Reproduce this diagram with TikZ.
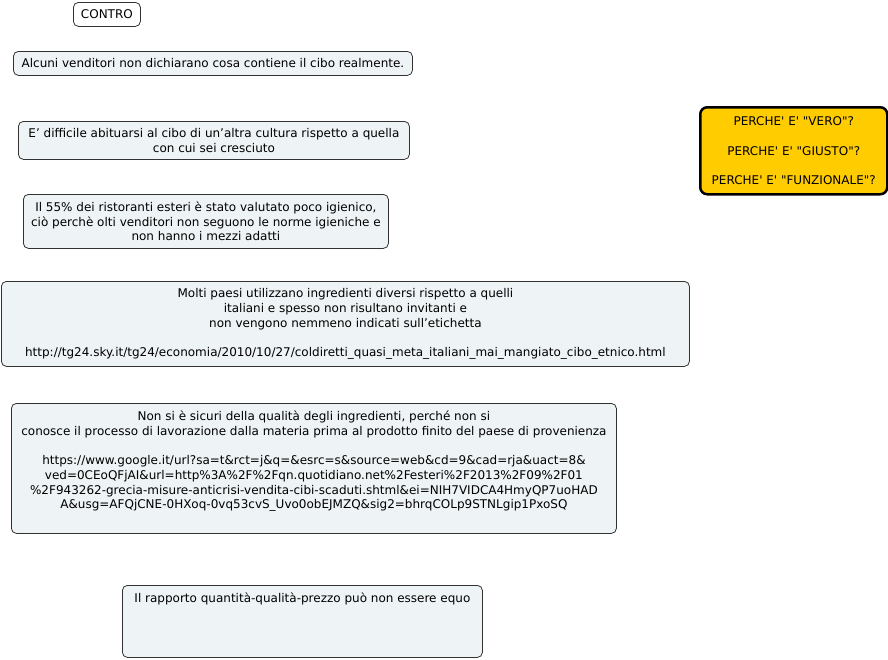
\documentclass[tikz,border=0pt]{standalone}
\usepackage{fontspec}
\setmainfont{DejaVu Sans}[Ligatures=TeXOff]
\usepackage{xcolor}
\usepackage{tikz}
\usetikzlibrary{
  positioning
}
\definecolor{boxfill}{RGB}{238,243,245}
\definecolor{boxline}{RGB}{50,50,50}
\definecolor{askfill}{RGB}{255,204,0}
\tikzset{
  mappa/.style={ font=\fontsize{12}{14.7}\selectfont },
  idea/.style={
    rounded corners=5pt,
    draw=boxline,
    fill=boxfill,
    line width=0.8pt,
    align=center,
    inner sep=2pt,
    anchor=north west,
    text=black
  },
  titolo/.style={
    idea,
    fill=white
  },
  domanda/.style={
    rounded corners=7pt,
    draw=black,
    fill=askfill,
    line width=2.5pt,
    align=center,
    inner sep=2pt,
    anchor=north west
  }
}

\begin{document}
\begin{tikzpicture}[mappa, x=1pt, y=-1pt]
  \useasboundingbox (0,0) rectangle (888,659);
  \node[titolo, minimum width=67pt, minimum height=24pt] (contro) at (73,2) {CONTRO};
  \node[idea, minimum width=399pt, minimum height=24pt] (alcuni) at (13,51)
    {Alcuni venditori non dichiarano cosa contiene il cibo realmente.};
  \node[idea, minimum width=391pt, minimum height=38pt] (difficile) at (18,121)
    {E’ difficile abituarsi al cibo di un’altra cultura rispetto a quella\\con cui sei cresciuto};
  \node[idea, minimum width=365pt, minimum height=54pt] (igiene) at (23,194)
    {Il 55\% dei ristoranti esteri è stato valutato poco igienico,\\ciò perchè olti venditori non seguono le norme igieniche e\\non hanno i mezzi adatti};
  \node[idea, minimum width=688pt, minimum height=85pt] (ingredienti) at (1,281)
    {Molti paesi utilizzano ingredienti diversi rispetto a quelli\\italiani e spesso non risultano invitanti e\\non vengono nemmeno indicati sull’etichetta\\[14.7pt]
     http://tg24.sky.it/tg24/economia/2010/10/27/coldiretti\_quasi\_meta\_italiani\_mai\_mangiato\_cibo\_etnico.html};
  \node[idea, inner ysep=0pt, minimum width=605pt, minimum height=130pt] (qualita) at (11,403)
    {Non si è sicuri della qualità degli ingredienti, perché non si\\conosce il processo di lavorazione dalla materia prima al prodotto finito del paese di provenienza\\[14.7pt]
     https://www.google.it/url?sa=t\&rct=j\&q=\&esrc=s\&source=web\&cd=9\&cad=rja\&uact=8\&\\
     ved=0CEoQFjAI\&url=http\%3A\%2F\%2Fqn.quotidiano.net\%2Festeri\%2F2013\%2F09\%2F01\\
     \%2F943262-grecia-misure-anticrisi-vendita-cibi-scaduti.shtml\&ei=NIH7VIDCA4HmyQP7uoHAD\\
     A\&usg=AFQjCNE-0HXoq-0vq53cvS\_Uvo0obEJMZQ\&sig2=bhrqCOLp9STNLgip1PxoSQ\\[2.3pt]\mbox{}};
  \node[idea, minimum width=360pt, minimum height=72pt] (prezzo) at (122,585)
    {Il rapporto quantità-qualità-prezzo può non essere equo\\[33pt]\mbox{}};
  \node[domanda, minimum width=187pt, minimum height=87pt] (perche) at (699,106)
    {PERCHE' E' "VERO"?\\[14.7pt]
     PERCHE' E' "GIUSTO"?\\[14.7pt]
     PERCHE' E' "FUNZIONALE"?};
\end{tikzpicture}
\end{document}
